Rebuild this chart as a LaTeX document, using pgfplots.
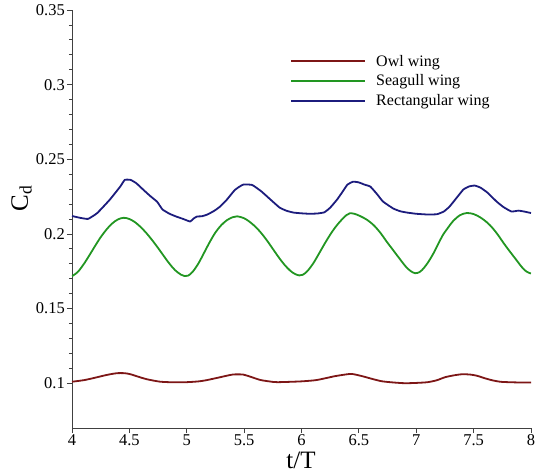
\documentclass[border=0pt]{standalone}
\usepackage{fontspec}
\setmainfont{Liberation Serif}
\newfontfamily\tickfont{Liberation Serif}
\usepackage{pgfplots}
\usepackage{pgfplotstable}
\pgfplotsset{compat=1.18}

\definecolor{owlred}{RGB}{125,22,22}
\definecolor{gullgreen}{RGB}{34,150,34}
\definecolor{rectblue}{RGB}{28,28,125}

% drag coefficient histories over four flapping periods
\pgfplotstableread{
t cd
4.00 0.1010
4.10 0.1020
4.18 0.1033
4.30 0.1055
4.39 0.1067
4.46 0.1067
4.51 0.1060
4.58 0.1043
4.65 0.1027
4.77 0.1010
4.90 0.1006
5.00 0.1007
5.10 0.1012
5.17 0.1020
5.29 0.1040
5.40 0.1058
5.49 0.1058
5.56 0.1042
5.64 0.1022
5.72 0.1012
5.79 0.1007
5.99 0.1012
6.12 0.1020
6.20 0.1032
6.29 0.1047
6.38 0.1058
6.44 0.1062
6.53 0.1047
6.62 0.1028
6.70 0.1013
6.80 0.1005
6.90 0.1000
7.00 0.1002
7.10 0.1007
7.18 0.1020
7.25 0.1040
7.33 0.1053
7.40 0.1060
7.47 0.1058
7.53 0.1050
7.59 0.1035
7.66 0.1020
7.73 0.1010
7.80 0.1007
7.90 0.1005
8.00 0.1005
}\owl

\pgfplotstableread{
t cd
4.00 0.1717
4.05 0.1745
4.10 0.1795
4.15 0.1855
4.20 0.1918
4.25 0.1978
4.30 0.2029
4.35 0.2070
4.40 0.2097
4.45 0.2108
4.50 0.2100
4.55 0.2078
4.60 0.2045
4.65 0.2004
4.70 0.1957
4.75 0.1906
4.80 0.1852
4.85 0.1800
4.90 0.1756
4.95 0.1727
4.98 0.1718
5.01 0.1720
5.05 0.1745
5.10 0.1800
5.15 0.1872
5.20 0.1945
5.25 0.2010
5.30 0.2058
5.35 0.2092
5.40 0.2112
5.44 0.2118
5.50 0.2105
5.55 0.2080
5.60 0.2047
5.65 0.2005
5.70 0.1955
5.75 0.1900
5.80 0.1845
5.85 0.1795
5.90 0.1755
5.94 0.1733
5.98 0.1722
6.01 0.1726
6.05 0.1750
6.10 0.1800
6.15 0.1865
6.20 0.1932
6.25 0.1995
6.30 0.2050
6.35 0.2095
6.39 0.2125
6.42 0.2138
6.46 0.2135
6.51 0.2120
6.57 0.2095
6.63 0.2058
6.69 0.2005
6.74 0.1951
6.80 0.1890
6.86 0.1829
6.91 0.1780
6.95 0.1752
6.99 0.1737
7.03 0.1745
7.07 0.1775
7.11 0.1818
7.15 0.1870
7.19 0.1930
7.23 0.1990
7.28 0.2045
7.32 0.2085
7.38 0.2125
7.44 0.2140
7.50 0.2133
7.56 0.2110
7.62 0.2075
7.67 0.2035
7.72 0.1985
7.76 0.1940
7.82 0.1878
7.88 0.1818
7.92 0.1778
7.96 0.1748
8.00 0.1735
}\seagull

\pgfplotstableread{
t cd
4.00 0.2120
4.07 0.2108
4.14 0.2101
4.22 0.2140
4.33 0.2230
4.42 0.2317
4.46 0.2362
4.51 0.2362
4.56 0.2340
4.62 0.2297
4.68 0.2255
4.74 0.2217
4.76 0.2195
4.79 0.2163
4.85 0.2135
4.91 0.2116
4.97 0.2100
5.03 0.2083
5.06 0.2103
5.09 0.2117
5.13 0.2118
5.18 0.2130
5.24 0.2155
5.29 0.2183
5.35 0.2230
5.42 0.2295
5.49 0.2330
5.57 0.2328
5.65 0.2285
5.73 0.2230
5.81 0.2176
5.87 0.2155
5.93 0.2143
6.00 0.2138
6.07 0.2135
6.14 0.2137
6.20 0.2145
6.25 0.2176
6.31 0.2230
6.36 0.2285
6.40 0.2330
6.45 0.2350
6.50 0.2345
6.55 0.2330
6.60 0.2317
6.66 0.2265
6.71 0.2217
6.80 0.2170
6.86 0.2152
6.92 0.2143
7.00 0.2135
7.10 0.2130
7.18 0.2132
7.24 0.2150
7.29 0.2183
7.35 0.2240
7.41 0.2297
7.46 0.2318
7.51 0.2324
7.56 0.2310
7.62 0.2277
7.70 0.2217
7.76 0.2180
7.83 0.2150
7.89 0.2156
7.94 0.2150
8.00 0.2140
}\rectangular

\begin{document}
\begin{tikzpicture}
\begin{axis}[
  name=ax,
  scale only axis,
  width=459pt, height=418pt,
  xmin=4, xmax=8, ymin=0.07, ymax=0.35,
  axis x line=bottom, axis y line=left,
  axis line style={-, line width=0.9pt, color=black!75},
  xtick={4,4.5,5,5.5,6,6.5,7,7.5,8},
  xticklabels={\textrm{4},\textrm{4.5},\textrm{5},\textrm{5.5},\textrm{6},\textrm{6.5},\textrm{7},\textrm{7.5},\textrm{8}},
  ytick={0.1,0.15,0.2,0.25,0.3,0.35},
  yticklabels={\textrm{0.1},\textrm{0.15},\textrm{0.2},\textrm{0.25},\textrm{0.3},\textrm{0.35}},
  minor y tick num=4,
  tick align=outside,
  major tick length=5pt, minor tick length=3pt,
  tick style={color=black!75, line width=0.8pt},
  ticklabel style={font=\tickfont\fontsize{16.5}{18}\selectfont},
  x tick label style={inner sep=1pt},
  y tick label style={inner sep=2pt},
  xlabel={t/T},
  ylabel={C\textsubscript{d}},
  every axis x label/.style={at={(axis description cs:0.499,-0.077)}, anchor=center, font=\fontsize{25}{28}\selectfont},
  every axis y label/.style={at={(axis description cs:-0.11,0.55)}, anchor=center, rotate=90, font=\fontsize{25}{28}\selectfont},
  legend style={at={(axis description cs:0.4685,0.902)}, anchor=north west, draw=none, fill=none,
    font=\fontsize{16}{18}\selectfont, row sep=3pt, cells={anchor=west},
    /tikz/every odd column/.append style={column sep=8pt}},
  legend image code/.code={\draw[#1, line width=2pt] (0pt,0pt) -- (74pt,0pt);},
  every axis plot/.append style={line width=1.8pt, line join=round},
]
\addplot[owlred, smooth, tension=0.4] table[x=t, y=cd] {\owl};
\addlegendentry{Owl wing}
\addplot[gullgreen, smooth, tension=0.55] table[x=t, y=cd] {\seagull};
\addlegendentry{Seagull wing}
\addplot[rectblue, smooth, tension=0.25] table[x=t, y=cd] {\rectangular};
\addlegendentry{Rectangular wing}
\end{axis}
\pgfresetboundingbox
\path ([xshift=-72pt,yshift=-46pt]ax.south west) rectangle ([xshift=12pt,yshift=10pt]ax.north east);
\end{tikzpicture}
\end{document}
